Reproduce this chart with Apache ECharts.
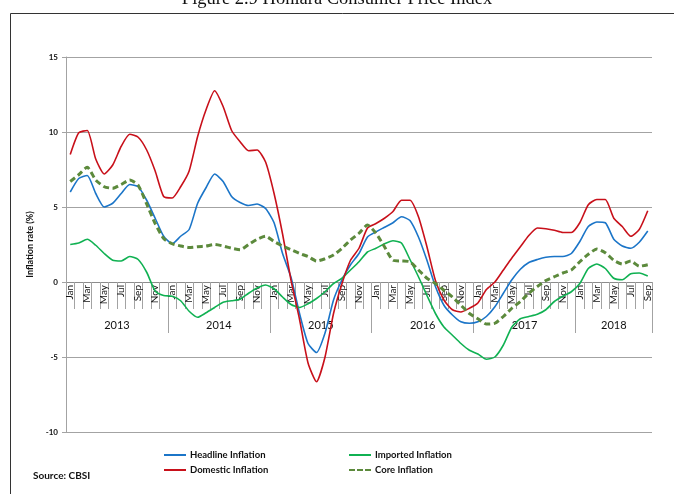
<!DOCTYPE html>
<html>
<head>
<meta charset="utf-8">
<script src="https://cdn.jsdelivr.net/npm/echarts@6/dist/echarts.min.js"></script>
<style>
  html, body { margin: 0; padding: 0; background: #fff; }
  #chart { width: 674px; height: 494px; }
</style>
</head>
<body>
<div id="chart"></div>
<script>
// ---- Data ----
const monthNames = ['Jan','Feb','Mar','Apr','May','Jun','Jul','Aug','Sep','Oct','Nov','Dec'];
const years = ['2013','2014','2015','2016','2017','2018'];
const monthsInYear = [12, 12, 12, 12, 12, 9];
const yTicks = [-10, -5, 0, 5, 10, 15];

const headline = [6.0, 6.9, 7.1, 5.9, 5.0, 5.25, 5.9, 6.5, 6.35, 5.45, 4.25, 3.05,
  2.55, 3.05, 3.5, 5.25, 6.3, 7.2, 6.7, 5.7, 5.3, 5.1, 5.2, 4.9,
  3.95, 1.9, 0.3, -2.1, -4.1, -4.7, -3.4, -1.2, 0.15, 1.15, 1.9, 3.0,
  3.35, 3.65, 3.95, 4.35, 4.1, 3.0, 1.45, -0.3, -1.55, -2.2, -2.65, -2.75,
  -2.65, -2.3, -1.65, -0.75, 0.15, 0.85, 1.3, 1.5, 1.65, 1.7, 1.7, 1.9,
  2.7, 3.7, 4.0, 3.95, 2.85, 2.4, 2.25, 2.65, 3.4];

const domestic = [8.5, 9.95, 10.1, 8.2, 7.2, 7.8, 9.05, 9.85, 9.65, 8.8, 7.4, 5.7,
  5.6, 6.35, 7.4, 9.7, 11.5, 12.75, 11.7, 10.1, 9.35, 8.75, 8.8, 8.0,
  5.9, 3.2, 0.1, -2.5, -5.4, -6.65, -5.0, -2.1, -0.1, 1.45, 2.25, 3.6,
  3.9, 4.25, 4.7, 5.45, 5.45, 4.35, 2.35, 0.1, -1.2, -1.85, -2.0, -1.75,
  -1.4, -0.5, 0.0, 0.8, 1.6, 2.35, 3.1, 3.6, 3.55, 3.45, 3.3, 3.3,
  3.95, 5.15, 5.5, 5.5, 4.25, 3.7, 3.05, 3.5, 4.75];

const imported = [2.5, 2.6, 2.85, 2.45, 1.9, 1.45, 1.4, 1.7, 1.5, 0.65, -0.6, -0.9,
  -0.95, -1.25, -1.95, -2.35, -2.05, -1.7, -1.35, -1.25, -1.15, -0.75, -0.4, -0.2,
  -0.45, -1.0, -1.5, -1.7, -1.45, -1.1, -0.65, -0.1, 0.25, 0.8, 1.35, 2.0,
  2.25, 2.55, 2.75, 2.6, 1.5, 0.35, -0.9, -2.1, -3.0, -3.55, -4.1, -4.55,
  -4.8, -5.15, -5.0, -4.2, -3.0, -2.45, -2.3, -2.15, -1.85, -1.3, -0.95, -0.65,
  -0.1, 0.9, 1.2, 0.9, 0.25, 0.15, 0.55, 0.6, 0.4];

const core = [6.7, 7.15, 7.65, 6.8, 6.35, 6.25, 6.5, 6.8, 6.45, 5.2, 3.9, 2.9,
  2.55, 2.4, 2.3, 2.35, 2.4, 2.5, 2.4, 2.25, 2.15, 2.5, 2.85, 3.05,
  2.7, 2.4, 2.15, 1.9, 1.7, 1.4, 1.55, 1.8, 2.25, 2.8, 3.25, 3.8,
  3.25, 2.35, 1.45, 1.4, 1.35, 0.8, 0.25, -0.1, -0.55, -1.0, -1.55, -2.1,
  -2.45, -2.8, -2.75, -2.3, -1.75, -1.3, -0.75, -0.3, 0.1, 0.35, 0.6, 0.8,
  1.35, 1.85, 2.2, 1.95, 1.45, 1.2, 1.4, 1.05, 1.15];

// ---- Derived axis categories ----
const months = [];
monthsInYear.forEach(n => { for (let m = 0; m < n; m++) months.push(monthNames[m]); });
const nMonths = months.length;
const yearCats = new Array(2 * nMonths + 1).fill('');
const yearTicks = new Set();
let b = 0;
yearTicks.add(0);
monthsInYear.forEach((n, k) => {
  yearCats[2 * b + n] = years[k];
  b += n;
  yearTicks.add(2 * b);
});

const labelFont = "Lato, 'Liberation Sans', sans-serif";
const gridGray = '#a3a3a3';
const gridTop = 57, gridBottom = 62, plotH = 494 - gridTop - gridBottom;
const zeroOffset = -plotH * (0 - yTicks[0]) / (yTicks[yTicks.length - 1] - yTicks[0]);

const colors = { headline: '#1b75c8', imported: '#10b152', domestic: '#c8101a', core: '#5c8a3c' };
const dashIcon = 'path://M0,0h6v2h-6z M8,0h6v2h-6z M16,0h6v2h-6z';

const chart = echarts.init(document.getElementById('chart'), null, { renderer: 'canvas' });
chart.setOption({
  animation: false,
  backgroundColor: '#ffffff',
  grid: { left: 66, right: 22, top: gridTop, bottom: gridBottom, containLabel: false },
  xAxis: [
    {
      type: 'category',
      data: months,
      boundaryGap: true,
      position: 'bottom',
      offset: zeroOffset,
      axisLine: { onZero: false, lineStyle: { color: '#8c8c8c', width: 1 } },
      axisTick: { show: true, interval: 0, length: 27, lineStyle: { color: gridGray } },
      axisLabel: { interval: 1, rotate: 90, margin: 3, fontSize: 10, color: '#111', fontFamily: labelFont }
    },
    {
      type: 'category',
      data: yearCats,
      boundaryGap: false,
      position: 'bottom',
      offset: zeroOffset,
      axisLine: { show: false, onZero: false },
      axisTick: { show: true, interval: (i) => yearTicks.has(i), length: 51, lineStyle: { color: gridGray } },
      axisLabel: { interval: (i, v) => v !== '', margin: 38, fontSize: 11, color: '#111', fontFamily: labelFont },
      splitLine: { show: false }
    }
  ],
  yAxis: {
    type: 'value',
    min: yTicks[0],
    max: yTicks[yTicks.length - 1],
    interval: 5,
    name: 'Inflation rate (%)',
    nameLocation: 'middle',
    nameRotate: 90,
    nameGap: 27,
    nameTextStyle: { fontSize: 9, fontWeight: 'bold', color: '#111', fontFamily: labelFont },
    axisLine: { show: true, onZero: false, lineStyle: { color: gridGray } },
    axisTick: { show: true, length: 4, lineStyle: { color: gridGray } },
    axisLabel: { fontSize: 8, fontWeight: 'bold', color: '#111', margin: 8, fontFamily: labelFont },
    splitLine: { show: true, lineStyle: { color: gridGray, width: 1 } }
  },
  legend: [
    {
      data: [
        { name: 'Headline Inflation', icon: 'rect' },
        { name: 'Domestic Inflation', icon: 'rect' }
      ],
      orient: 'vertical', left: 159, top: 445, itemGap: 5, itemWidth: 22, itemHeight: 2,
      textStyle: { fontSize: 9.5, fontWeight: 'bold', color: '#111', fontFamily: labelFont, padding: [0, 0, 0, -1] }
    },
    {
      data: [
        { name: 'Imported Inflation', icon: 'rect' },
        { name: 'Core Inflation', icon: dashIcon }
      ],
      orient: 'vertical', left: 344, top: 445, itemGap: 5, itemWidth: 22, itemHeight: 2,
      textStyle: { fontSize: 9.5, fontWeight: 'bold', color: '#111', fontFamily: labelFont, padding: [0, 0, 0, -1] }
    }
  ],
  graphic: [
    { type: 'rect', shape: { x: 10.5, y: 13.5, width: 700, height: 500 }, style: { fill: 'none', stroke: '#333', lineWidth: 1 }, silent: true },
    { type: 'text', left: 'center', top: -10, style: { text: 'Figure 2.9 Honiara Consumer Price Index', font: "18.5px 'Liberation Serif', serif", fill: '#111' } },
    { type: 'text', left: 33, top: 471, style: { text: 'Source: CBSI', font: "bold 10px Lato, 'Liberation Sans', sans-serif", fill: '#111' } }
  ],
  series: [
    { name: 'Headline Inflation', type: 'line', data: headline, symbol: 'none', smooth: 0.2, lineStyle: { color: colors.headline, width: 1.6 }, itemStyle: { color: colors.headline } },
    { name: 'Imported Inflation', type: 'line', data: imported, symbol: 'none', smooth: 0.2, lineStyle: { color: colors.imported, width: 1.6 }, itemStyle: { color: colors.imported } },
    { name: 'Domestic Inflation', type: 'line', data: domestic, symbol: 'none', smooth: 0.2, lineStyle: { color: colors.domestic, width: 1.6 }, itemStyle: { color: colors.domestic } },
    { name: 'Core Inflation', type: 'line', data: core, symbol: 'none', smooth: 0.2, lineStyle: { color: colors.core, width: 3, type: [6, 3.5] }, itemStyle: { color: colors.core } }
  ]
});
</script>
</body>
</html>
